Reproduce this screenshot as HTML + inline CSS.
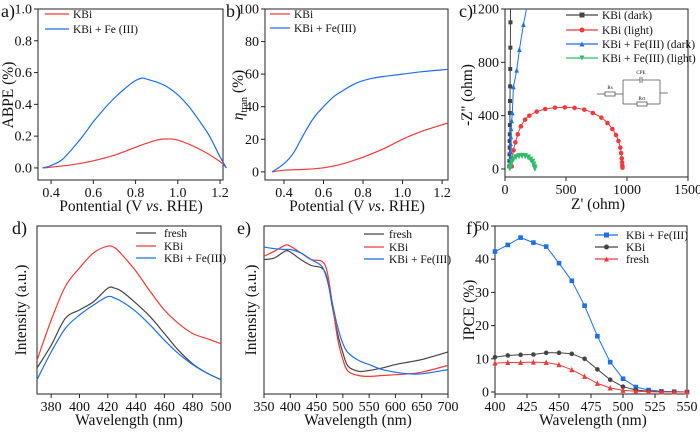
<!DOCTYPE html>
<html><head><meta charset="utf-8"><style>
body{margin:0;background:#fff}
svg, svg text{font-family:"Liberation Serif","Times New Roman","Tinos","Nimbus Roman","DejaVu Serif",serif !important}
</style></head><body>
<svg id="fig" width="700" height="432" viewBox="0 0 700 432" xmlns="http://www.w3.org/2000/svg"></svg>
<script>
// ---- data ----
const aX=[0.36,0.4,0.45,0.5,0.55,0.6,0.65,0.7,0.75,0.8,0.83,0.85,0.9,0.95,1.0,1.05,1.1,1.15,1.2,1.23];
const aBlue=[0,0.015,0.05,0.12,0.2,0.29,0.37,0.44,0.5,0.55,0.565,0.56,0.54,0.51,0.46,0.39,0.3,0.2,0.07,0];
const aRedX=[0.36,0.4,0.5,0.6,0.7,0.8,0.9,0.95,1.0,1.1,1.2,1.23];
const aRed=[0,0.005,0.02,0.045,0.08,0.13,0.175,0.182,0.175,0.12,0.04,0];
const bX=[0.34,0.4,0.45,0.5,0.55,0.6,0.65,0.7,0.75,0.8,0.85,0.9,1.0,1.1,1.23];
const bBlue=[0,5,12,23,33,40,46,50,53.5,56,57.5,58.5,60,61.5,63];
const bRedX=[0.34,0.4,0.5,0.6,0.7,0.8,0.9,1.0,1.1,1.23];
const bRed=[0,1,1.5,2.5,5,9,14,20,25,30];
const cGreyX=[35,36,37,38,38,39,40,40,41,42,43,44,45];
const cGreyY=[20,60,110,160,210,260,330,420,510,620,750,910,1100];
const cRedX=[55,60,70,85,105,130,165,200,260,330,410,490,570,650,720,790,840,880,910,930,945,952,957,960,962,963];
const cRedY=[20,80,140,200,260,320,370,400,430,450,460,462,458,445,420,385,345,300,255,210,160,120,80,50,25,10];
const cBlueX=[40,42,44,46,48,50,55,60,69,96,118,151];
const cBlueY=[30,80,130,190,240,300,360,420,615,740,895,1082];
const cGreenX=[40,45,55,70,90,115,140,165,190,210,225,235,242,245];
const cGreenY=[5,30,55,75,90,98,100,98,88,72,55,35,15,3];
const dX=[370,380,390,400,410,420,425,430,440,450,460,470,480,490,500];
const dRed=[20,44,64,75,84,88,87,83,73,61,50,42,36,33,30];
const dGrey=[15.5,29,45,50,55,63,63,61,54,46,36,26,18,12.5,8.5];
const dBlue=[8.5,25,39,47,53,58,57,55,49,41,32,24,17.5,12.5,8.5];
const eX=[350,370,390,400,420,440,460,470,480,490,500,510,530,550,575,600,625,650,700];
const eGrey=[80,81,85,84.5,80,76.5,75,69,52,36,24.5,16.5,13.5,14,15.5,17.5,19,20.5,25];
const eRed=[82,85,88.5,88,84,80,79,73,54,33,20.5,13.5,11,10.5,11,11.5,12,13,17];
const eBlue=[87.5,86.5,86,86,84,80,76,68,54,40,30,24.5,20,17.5,14.5,13,12,12,14.5];
const fX=[400,410,420,430,440,450,460,470,480,490,500,510,520,530,540,550];
const fBlue=[42.3,44.3,46.5,45,43.8,38.8,33.5,26,16.8,9,4,1.5,0.6,0.2,0.1,0];
const fGrey=[10.5,11,11.2,11.3,11.8,11.8,11.5,10,6.8,3.7,1.6,0.6,0.2,0.1,0.05,0];
const fRed=[8.7,8.9,8.9,9,8.9,8.2,6.7,4.7,2.6,1.2,0.5,0.2,0.1,0,0,0];
const aTicksX=[0.4,0.6,0.8,1.0,1.2], aTicksY=[0,0.2,0.4,0.6,0.8,1.0];
const bTicksX=[0.4,0.6,0.8,1.0,1.2], bTicksY=[0,20,40,60,80,100];
const cTicksX=[0,500,1000,1500], cTicksY=[0,400,800,1200];
const dTicksX=[380,400,420,440,460,480,500];
const eTicksX=[350,400,450,500,550,600,650,700];
const fTicksX=[400,425,450,475,500,525,550], fTicksY=[0,10,20,30,40,50];

const RED='#f23a3a',BLUE='#1f6fe8',GREY='#444',GREEN='#2dbf6a';
const FONT="'Liberation Serif','Times New Roman','DejaVu Serif',serif";
const NS='http://www.w3.org/2000/svg';
const svg=document.getElementById('fig');
function mk(tag,attrs,parent){const e=document.createElementNS(NS,tag);for(const k in attrs)e.setAttribute(k,attrs[k]);(parent||svg).appendChild(e);return e;}
function txt(s,x,y,size,anchor,parent){const t=mk('text',{x:x,y:y,'font-size':size,'text-anchor':anchor||'middle',fill:'#111'},parent);t.style.fontFamily=FONT;t.textContent=s;return t;}

function panel(name,L,R,T,B,x0,x1,y0,y1){
  const g=mk('g',{});
  
  
  const P={g:g,sx:v=>L+(v-x0)/(x1-x0)*(R-L),sy:v=>B-(v-y0)/(y1-y0)*(B-T),L:L,R:R,T:T,B:B};
  const fr=mk('rect',{x:L,y:T,width:R-L,height:B-T,fill:'none',stroke:'#222','stroke-width':1},g);
  
  
  return P;
}
function xTicks(P,ticks,fmt){
  ticks.forEach(v=>{const x=P.sx(v);
    mk('line',{x1:x,x2:x,y1:P.B,y2:P.B+4,stroke:'#222'},P.g);
    const t=txt(fmt?fmt(v):String(v),x,P.B+17,14,'middle',P.g);
    
    });
}
function yTicks(P,ticks,fmt){
  ticks.forEach(v=>{const y=P.sy(v);
    mk('line',{x1:P.L-4,x2:P.L,y1:y,y2:y,stroke:'#222'},P.g);
    const t=txt(fmt?fmt(v):String(v),P.L-6,y+4.5,14,'end',P.g);
    
    });
}
function smoothPath(pts){
  let d='M'+pts[0][0].toFixed(1)+','+pts[0][1].toFixed(1);
  for(let i=0;i<pts.length-1;i++){
    const p0=pts[Math.max(0,i-1)],p1=pts[i],p2=pts[i+1],p3=pts[Math.min(pts.length-1,i+2)];
    const c1x=p1[0]+(p2[0]-p0[0])/6,c1y=p1[1]+(p2[1]-p0[1])/6;
    const c2x=p2[0]-(p3[0]-p1[0])/6,c2y=p2[1]-(p3[1]-p1[1])/6;
    d+=`C${c1x.toFixed(1)},${c1y.toFixed(1)} ${c2x.toFixed(1)},${c2y.toFixed(1)} ${p2[0].toFixed(1)},${p2[1].toFixed(1)}`;
  }
  return d;
}
function line(P,xs,ys,color,name,w,straight){
  const pts=xs.map((x,i)=>[P.sx(x),P.sy(ys[i])]);
  const d=straight?pts.map((p,i)=>(i?'L':'M')+p[0].toFixed(1)+','+p[1].toFixed(1)).join(''):smoothPath(pts);
  const p=mk('path',{d:d,fill:'none',stroke:color,'stroke-width':w||1.2,'stroke-linejoin':'round'},P.g);
  
  
  return p;
}
function markers(P,xs,ys,color,shape,name,s){
  s=s||2.5;
  const g=mk('g',{fill:color},P.g);
  
  
  xs.forEach((xv,i)=>{const x=P.sx(xv),y=P.sy(ys[i]);
    if(shape==='sq')mk('rect',{x:x-s,y:y-s,width:2*s,height:2*s},g);
    else if(shape==='c')mk('circle',{cx:x,cy:y,r:s},g);
    else if(shape==='t')mk('polygon',{points:`${x},${y-s-0.5} ${x-s},${y+s} ${x+s},${y+s}`},g);
    else mk('polygon',{points:`${x},${y+s+0.5} ${x-s},${y-s} ${x+s},${y-s}`},g);});
}
function legend(P,x1,x2,tx,ys,items,fs,mark){
  items.forEach((it,i)=>{
    const g=mk('g',{},P.g);
    
    
    mk('line',{x1:x1,x2:x2,y1:ys[i]-4,y2:ys[i]-4,stroke:it[1],'stroke-width':1.3},g);
    if(mark){const x=(x1+x2)/2,y=ys[i]-4,s=2.5,c=it[1];
      if(it[2]==='sq')mk('rect',{x:x-s,y:y-s,width:2*s,height:2*s,fill:c},g);
      else if(it[2]==='c')mk('circle',{cx:x,cy:y,r:s,fill:c},g);
      else if(it[2]==='t')mk('polygon',{points:`${x},${y-s} ${x-s},${y+s} ${x+s},${y+s}`,fill:c},g);
      else mk('polygon',{points:`${x},${y+s} ${x-s},${y-s} ${x+s},${y-s}`,fill:c},g);}
    txt(it[0],tx,ys[i],fs||11.5,'start',g);
  });
}
function label(s,x,y){const t=txt(s,x,y,18,'start');}
function xTitle(P,html,x,y){const t=mk('text',{x:x,y:y,'font-size':15.5,'text-anchor':'middle',fill:'#111'},P.g);t.style.fontFamily=FONT;t.innerHTML=html;}
function yTitle(P,html,x,y){const t=mk('text',{x:x,y:y,'font-size':15.5,'text-anchor':'middle',fill:'#111',transform:`rotate(-90 ${x} ${y})`},P.g);t.style.fontFamily=FONT;t.innerHTML=html;}

// a
let P=panel('panel-a-abpe',38,223,9,180,0.338,1.214,-0.076,1.0);
xTicks(P,aTicksX,v=>v.toFixed(1));yTicks(P,aTicksY,v=>v.toFixed(1));
line(P,aRedX,aRed,RED,'series-kbi');line(P,aX,aBlue,BLUE,'series-kbi-fe');
legend(P,45,69,73,[18,33],[['KBi',RED],['KBi + Fe (III)',BLUE]]);
xTitle(P,'Pontential  (V <tspan font-style="italic">vs</tspan>. RHE)',131,211);
yTitle(P,'ABPE (%)',13,95);
label('a)',1,17);
// b
P=panel('panel-b-eta-tran',265,448,9,180,0.304,1.23,-5,100);
xTicks(P,bTicksX,v=>v.toFixed(1));yTicks(P,bTicksY);
line(P,bRedX,bRed,RED,'series-kbi');line(P,bX,bBlue,BLUE,'series-kbi-fe');
legend(P,270,290,294,[18,32],[['KBi',RED],['KBi + Fe(III)',BLUE]]);
xTitle(P,'Potential (V <tspan font-style="italic">vs</tspan>. RHE)',357,211);
yTitle(P,'<tspan font-style="italic">η</tspan><tspan font-size="10" dy="4">tran</tspan><tspan dy="-4"> (%)</tspan>',243,95);
label('b)',226,17);
// c
P=panel('panel-c-nyquist',505,688,9,177,0,1500,-60,1200);
xTicks(P,cTicksX);yTicks(P,cTicksY);
line(P,cGreyX.concat([45]),cGreyY.concat([1200]),GREY,'series-kbi-dark',1,true);
markers(P,cGreyX,cGreyY,GREY,'sq','markers-kbi-dark',2);
line(P,cRedX,cRedY,RED,'series-kbi-light',1);
markers(P,cRedX,cRedY,RED,'c','markers-kbi-light',2.3);
line(P,cBlueX.concat([176]),cBlueY.concat([1200]),BLUE,'series-kbi-fe-dark',1,true);
markers(P,cBlueX,cBlueY,BLUE,'t','markers-kbi-fe-dark',2.3);
line(P,cGreenX,cGreenY,GREEN,'series-kbi-fe-light',1);
markers(P,cGreenX,cGreenY,GREEN,'v','markers-kbi-fe-light',2.8);
legend(P,566,598,602,[19,34,48,62],[['KBi (dark)',GREY,'sq'],['KBi (light)',RED,'c'],['KBi + Fe(III) (dark)',BLUE,'t'],['KBi + Fe(III) (light)',GREEN,'v']],11.5,true);
// circuit inset
(function(){const g=mk('g',{stroke:'#555','stroke-width':0.8,fill:'none'},P.g);

mk('line',{x1:597,y1:94,x2:605,y2:94},g);mk('rect',{x:605,y:92,width:10,height:4},g);
mk('line',{x1:615,y1:94,x2:623,y2:94},g);mk('line',{x1:623,y1:80,x2:623,y2:104},g);
mk('line',{x1:623,y1:80,x2:640,y2:80},g);mk('line',{x1:640,y1:77,x2:640,y2:83},g);mk('line',{x1:642,y1:77,x2:642,y2:83},g);
mk('line',{x1:642,y1:80,x2:660,y2:80},g);mk('line',{x1:660,y1:80,x2:660,y2:104},g);
mk('line',{x1:623,y1:104,x2:637,y2:104},g);mk('rect',{x:637,y:102,width:10,height:4},g);mk('line',{x1:647,y1:104,x2:660,y2:104},g);
mk('line',{x1:660,y1:93,x2:668,y2:93},g);
txt('CPE',641,74,5,'middle',P.g);txt('Rs',610,89,5,'middle',P.g);txt('Rct',642,100,5,'middle',P.g);})();
xTitle(P,"Z' (ohm)",598,209);
yTitle(P,"-Z'' (ohm)",472,95);
label('c)',459,17);
// d
P=panel('panel-d-pl',37,221,226,394,370,500,0,100);
xTicks(P,dTicksX);
line(P,dX,dRed,RED,'series-kbi');line(P,dX,dGrey,GREY,'series-fresh');line(P,dX,dBlue,BLUE,'series-kbi-fe');
legend(P,136,156,164,[237,250,262],[['fresh',GREY],['KBi',RED],['KBi + Fe(III)',BLUE]]);
xTitle(P,'Wavelength (nm)',129,425);
yTitle(P,'Intensity (a.u.)',26,310);
label('d)',12,234);
// e
P=panel('panel-e-absorbance',264,448,226,394,350,700,0,100);
xTicks(P,eTicksX);
line(P,eX,eGrey,GREY,'series-fresh');line(P,eX,eRed,RED,'series-kbi');line(P,eX,eBlue,BLUE,'series-kbi-fe');
legend(P,364,384,389,[238,251,263],[['fresh',GREY],['KBi',RED],['KBi + Fe(III)',BLUE]]);
xTitle(P,'Wavelength (nm)',358,425);
yTitle(P,'Intensity (a.u.)',256,310);
label('e)',237,234);
// f
P=panel('panel-f-ipce',495,687,226,394,400,550,-0.6,50);
xTicks(P,fTicksX);yTicks(P,fTicksY);
line(P,fX,fBlue,BLUE,'series-kbi-fe',1,true);markers(P,fX,fBlue,BLUE,'sq','markers-kbi-fe',2.3);
line(P,fX,fGrey,GREY,'series-kbi',1,true);markers(P,fX,fGrey,GREY,'c','markers-kbi',2.3);
line(P,fX,fRed,RED,'series-fresh',1,true);markers(P,fX,fRed,RED,'t','markers-fresh',2.5);
legend(P,595,618,626,[239,251,263],[['KBi + Fe(III)',BLUE,'sq'],['KBi',GREY,'c'],['fresh',RED,'t']],11.5,true);
xTitle(P,'Wavelength (nm)',593,425);
yTitle(P,'IPCE (%)',474,310);
label('f)',466,234);
</script>
</body></html>
